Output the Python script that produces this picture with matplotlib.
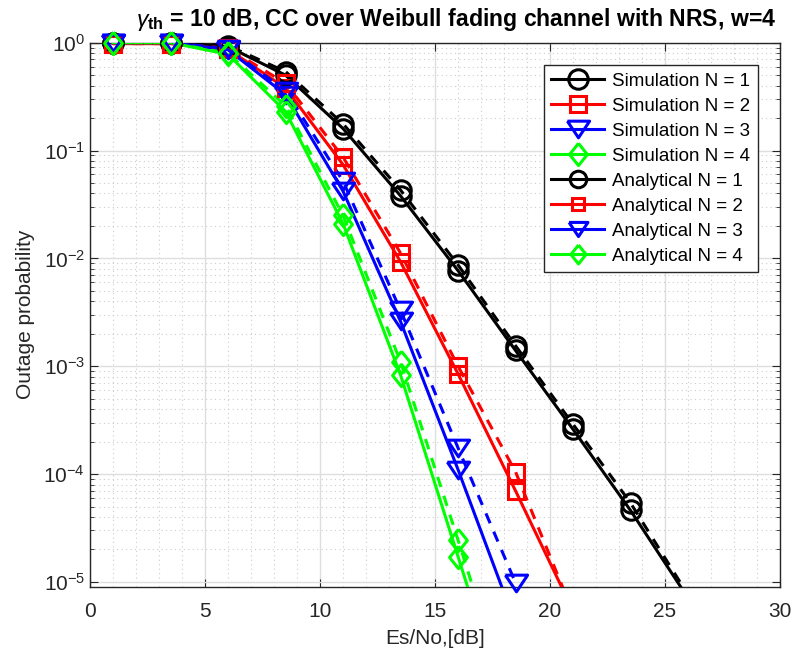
import numpy as np
import matplotlib
matplotlib.use("Agg")
import matplotlib.pyplot as plt
from matplotlib.lines import Line2D
from matplotlib.ticker import LogLocator, MultipleLocator, NullFormatter

plt.rcParams['font.family'] = ['Liberation Sans', 'DejaVu Sans']
plt.rcParams['mathtext.fontset'] = 'custom'
plt.rcParams['mathtext.rm'] = 'Liberation Sans'
plt.rcParams['mathtext.it'] = 'Liberation Sans:italic'
plt.rcParams['mathtext.bf'] = 'Liberation Sans:bold'

# SNR grid (dB)
snr_db = [1, 3.5, 6, 8.5, 11, 13.5, 16, 18.5, 21, 23.5, 26]

# Simulated outage probability (solid curves)
sim_n1 = [1.0, 1.0, 0.92, 0.50, 0.160, 0.038, 0.0077, 0.00140, 0.00026, 4.6e-5, 7.1e-6]
sim_n2 = [0.98, 0.98, 0.87, 0.38, 0.074, 0.0093, 8.5e-4, 7.0e-5, 5.4e-6, np.nan, np.nan]
sim_n3 = [1.0, 1.0, 0.86, 0.33, 0.042, 0.0026, 1.1e-4, 4.1e-6, np.nan, np.nan, np.nan]
sim_n4 = [1.0, 1.0, 0.78, 0.23, 0.021, 8.3e-4, 1.72e-5, 3.5e-7, np.nan, np.nan, np.nan]

# Analytical outage probability (dashed curves)
ana_n1 = [1.0, 1.0, 0.94, 0.54, 0.177, 0.043, 0.0087, 0.00155, 0.00029, 5.4e-5, 7.6e-6]
ana_n2 = [0.98, 0.98, 0.89, 0.42, 0.087, 0.0112, 1.0e-3, 1.05e-4, 5.2e-6, np.nan, np.nan]
ana_n3 = [1.0, 1.0, 0.88, 0.36, 0.052, 0.0033, 1.75e-4, 9.8e-6, np.nan, np.nan, np.nan]
ana_n4 = [1.0, 1.0, 0.80, 0.26, 0.025, 1.1e-3, 2.45e-5, 5.0e-7, np.nan, np.nan, np.nan]

sim_curves = [sim_n1, sim_n2, sim_n3, sim_n4]
ana_curves = [ana_n1, ana_n2, ana_n3, ana_n4]
colors = ['#000000', '#ff0000', '#0000ff', '#00ff00']

# MATLAB-like marker shapes: wide down-triangle and tall diamond
tri_down = [(-1.0, 0.75), (1.0, 0.75), (0.0, -0.75), (-1.0, 0.75)]
diamond = [(0.0, 1.0), (0.8, 0.0), (0.0, -1.0), (-0.8, 0.0), (0.0, 1.0)]
markers = ['o', 's', tri_down, diamond]
msizes = [14, 11, 16, 16]
sim_labels = ['Simulation N = 1', 'Simulation N = 2', 'Simulation N = 3', 'Simulation N = 4']
ana_labels = ['Analytical N = 1', 'Analytical N = 2', 'Analytical N = 3', 'Analytical N = 4']

YMIN, YMAX = 9.04e-6, 1.0

fig = plt.figure(figsize=(7.94, 6.58), dpi=100)
ax = fig.add_axes([0.1134, 0.1084, 0.8690, 0.8267])

lw = 2.2


def draw_curve(y, color, marker, ms, style):
    y = np.asarray(y, dtype=float)
    x = np.asarray(snr_db, dtype=float)
    kw = dict(color=color, lw=lw, zorder=3)
    if style == '--':
        ax.plot(x, y, '--', dashes=(3.5, 3.0), **kw)
    else:
        ax.plot(x, y, '-', **kw)
    # markers for points inside the y range, not clipped at the axes edge
    inside = np.isfinite(y) & (y >= YMIN) & (y <= YMAX * 1.01)
    ax.plot(x[inside], y[inside], ls='none', marker=marker, ms=ms, mfc='none',
            mec=color, mew=lw, zorder=4, clip_on=False)


for y, c, m, ms in zip(sim_curves, colors, markers, msizes):
    draw_curve(y, c, m, ms, '-')
for y, c, m, ms in zip(ana_curves, colors, markers, msizes):
    draw_curve(y, c, m, ms, '--')

ax.set_yscale('log')
ax.set_xlim(0, 30)
ax.set_ylim(YMIN, YMAX)

ax.xaxis.set_major_locator(MultipleLocator(5))
ax.xaxis.set_minor_locator(MultipleLocator(1))
ax.yaxis.set_major_locator(LogLocator(base=10, numticks=10))
ax.yaxis.set_minor_locator(LogLocator(base=10, subs=np.arange(2, 10), numticks=10))
ax.yaxis.set_minor_formatter(NullFormatter())

ax.grid(True, which='major', color='#dedede', lw=1.0, ls='-')
ax.grid(True, which='minor', color='#cccccc', lw=0.8, ls=(0, (1, 3)))
ax.set_axisbelow(True)

axis_col = '#262626'
for s in ax.spines.values():
    s.set_color(axis_col)
    s.set_linewidth(1.0)
ax.tick_params(which='both', direction='in', top=True, right=True,
               color=axis_col, labelcolor=axis_col, labelsize=15)
ax.tick_params(which='major', length=6)
ax.tick_params(which='minor', length=3)
ax.tick_params(axis='x', which='minor', length=0)
ax.tick_params(axis='x', pad=11)

ax.set_xlabel('Es/No,[dB]', fontsize=15, color=axis_col, labelpad=6)
ax.set_ylabel('Outage probability', fontsize=15, color=axis_col, labelpad=6)
ax.set_title(r'$\gamma_{\mathbf{th}}$ = 10 dB, CC over Weibull fading channel with NRS, w=4',
             fontsize=16.6, fontweight='bold', pad=12, x=0.53)

handles = []
for c, m, ms, lab in zip(colors, markers, msizes, sim_labels):
    handles.append(Line2D([], [], color=c, lw=lw, marker=m, ms=ms, mfc='none',
                          mec=c, mew=lw, label=lab))
for c, m, ms, lab in zip(colors, markers, msizes, ana_labels):
    handles.append(Line2D([], [], color=c, lw=lw, marker=m, ms=ms * 0.85, mfc='none',
                          mec=c, mew=lw, label=lab))
leg = ax.legend(handles=handles, loc='upper right', bbox_to_anchor=(0.968, 0.959),
                fontsize=13.5, frameon=True, fancybox=False, edgecolor=axis_col,
                handlelength=2.8, handletextpad=0.45, borderpad=0.4,
                labelspacing=0.42, borderaxespad=0.0)
leg.get_frame().set_linewidth(1.0)
leg.get_frame().set_alpha(1.0)
leg.set_zorder(5)

fig.savefig('out.png', dpi=100)
